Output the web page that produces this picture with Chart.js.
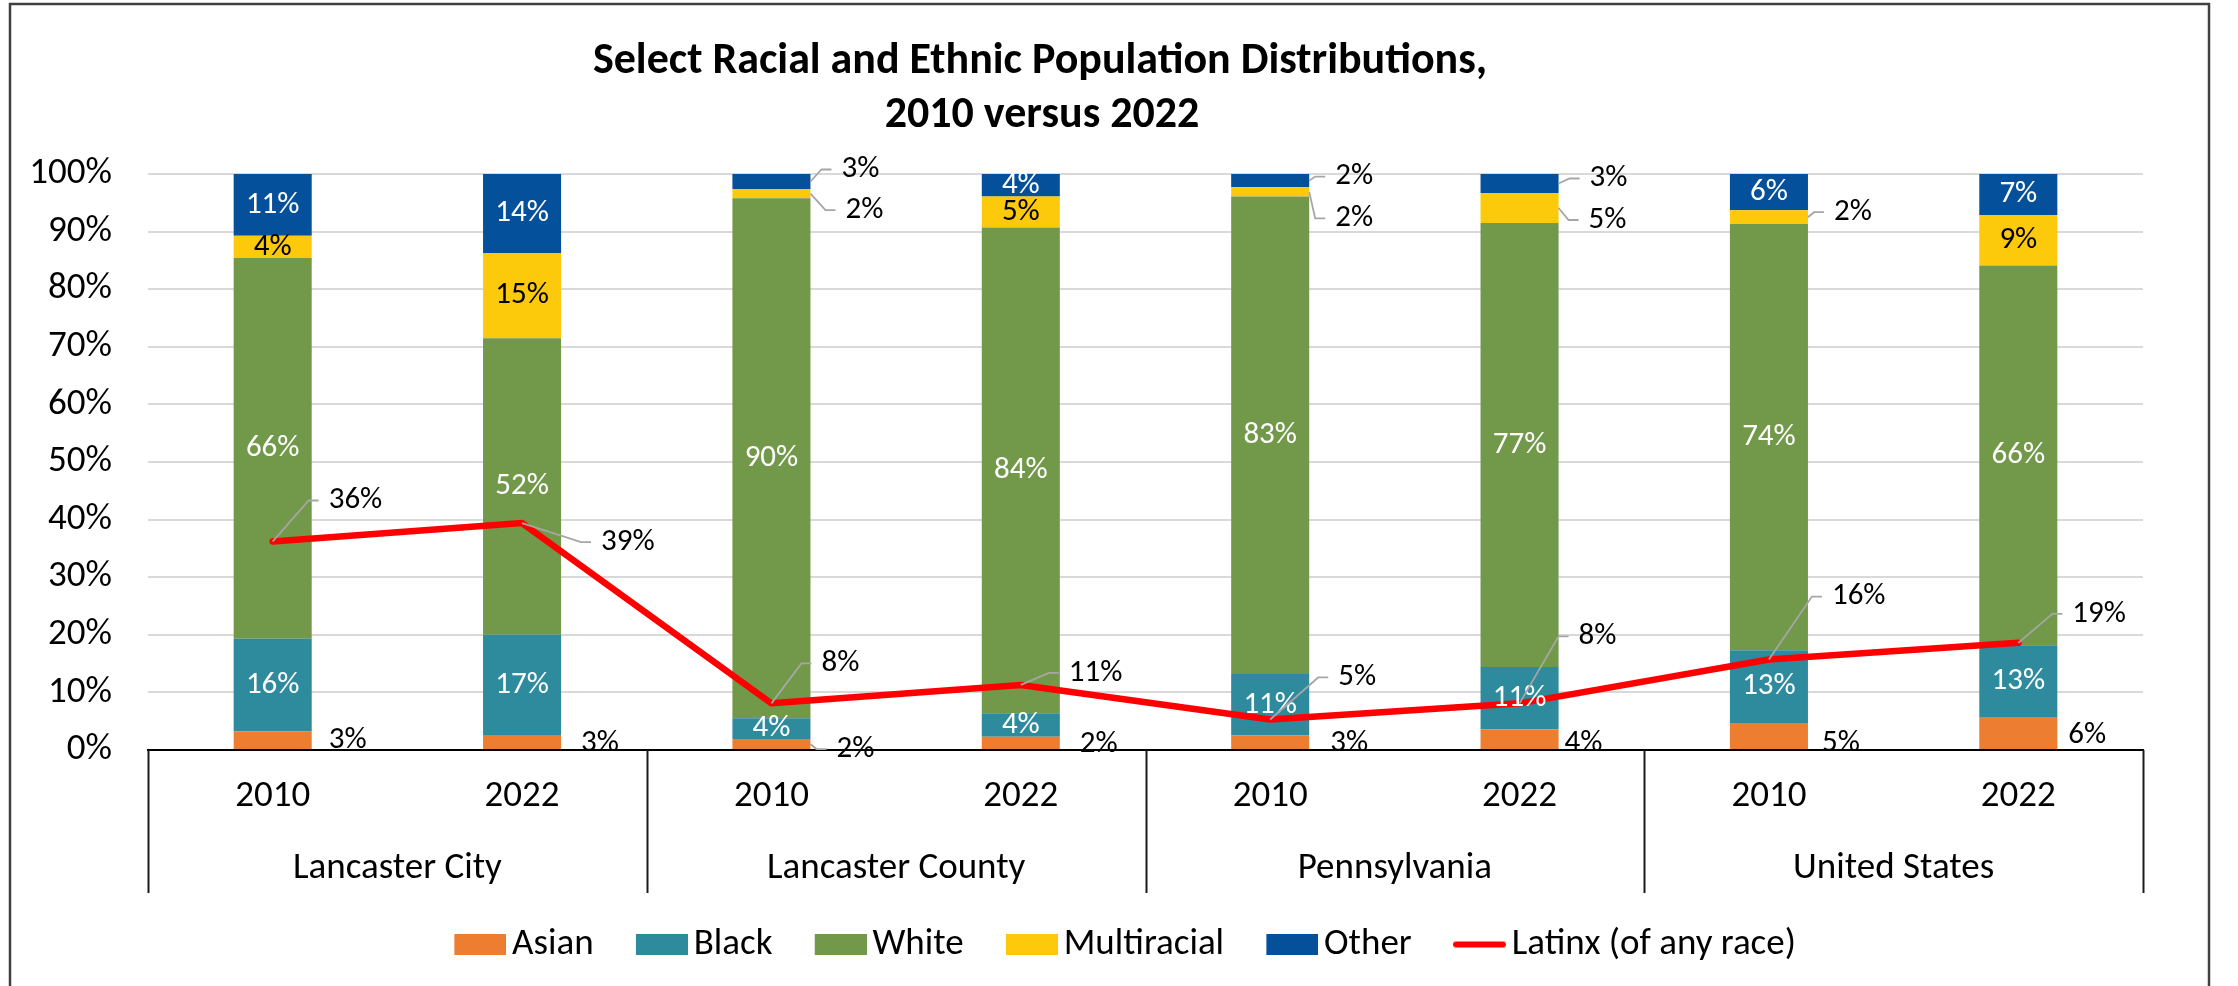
<!DOCTYPE html>
<html><head><meta charset="utf-8">
<script src="https://cdn.jsdelivr.net/npm/chart.js@4.4.1/dist/chart.umd.min.js"></script>
<style>html,body{margin:0;padding:0;background:#fff;} #wrap{position:relative;width:2238px;height:986px;}</style>
</head><body><div id="wrap"><canvas id="c"></canvas></div>
<script>
// ---------- data ----------
const titleLines = ['Select Racial and Ethnic Population Distributions,', '2010 versus 2022'];
const years = ['2010', '2022', '2010', '2022', '2010', '2022', '2010', '2022'];
const groups = ['Lancaster City', 'Lancaster County', 'Pennsylvania', 'United States'];
const asian       = [3.2, 2.6, 1.9, 2.3, 2.5, 3.6, 4.7, 5.6];
const black       = [16.1, 17.4, 3.6, 4.1, 10.7, 10.8, 12.6, 12.6];
const white       = [66.1, 51.5, 90.3, 84.3, 82.9, 77.1, 74.0, 65.9];
const multiracial = [3.9, 14.8, 1.6, 5.4, 1.6, 5.2, 2.4, 8.8];
const other       = [10.7, 13.7, 2.6, 3.9, 2.3, 3.3, 6.3, 7.1];
const latinx      = [36.2, 39.4, 8.1, 11.3, 5.3, 8.1, 15.7, 18.6];
const yMin = 0, yMax = 100, yStep = 10;

// ---------- label placement (style, not data) ----------
// 'c' = centred in segment; [dx, dy, leader] = text left offset from bar right edge / point, vertical offset
const labelPlacement = {
  asian:       [[17,0,0],[20,1.5,0],[26,5,1],[20,1.5,0],[21,1,0],[6,4,0],[14,7,0],[11,1.5,0]],
  black:       ['c','c','c','c','c','c','c','c'],
  white:       ['c','c','c','c','c','c','c','c'],
  multiracial: ['c','c',[35,16.5,1],'c',[26,26.5,1],[30,12,1],[26,-5,1],'c'],
  other:       ['c','c',[31,-12,1],'c',[26,-4,1],[31,-5,1],'c','c'],
  latinx:      [[56,-41,1],[79,19,1],[50,-40,1],[48,-12,1],[68,-42,1],[59,-67,1],[63,-63,1],[54,-29,1]]
};

const FONT = 'Carlito, Calibri, Lato, sans-serif';
Chart.defaults.font.family = FONT;
Chart.defaults.color = '#000';

// legend swatch: 52px key drawn at the right of a 77px transparent image (keeps text close to key)
function legendSwatch(color, isLine) {
  const c = document.createElement('canvas');
  const g = c.getContext('2d');
  c.width = 77;
  if (isLine) {
    c.height = 10;
    g.strokeStyle = color; g.lineWidth = 6; g.lineCap = 'round';
    g.beginPath(); g.moveTo(27, 5); g.lineTo(74, 5); g.stroke();
  } else {
    c.height = 21;
    g.fillStyle = color; g.fillRect(25, 0, 52, 21);
  }
  return c;
}

const framePlugin = {
  id: 'frame',
  beforeDraw(chart) {
    const ctx = chart.ctx;
    ctx.save();
    ctx.fillStyle = '#fff';
    ctx.fillRect(0, 0, chart.width, chart.height);
    ctx.restore();
  },
  afterDraw(chart) {
    const ctx = chart.ctx;
    ctx.save();
    ctx.strokeStyle = '#404040';
    ctx.lineWidth = 2.5;
    ctx.strokeRect(10, 4, 2199, 1000);
    // title
    ctx.fillStyle = '#000';
    ctx.font = 'bold 44px ' + FONT;
    ctx.textAlign = 'center';
    ctx.textBaseline = 'alphabetic';
    ctx.fillText(titleLines[0], 1040, 73);
    ctx.fillText(titleLines[1], 1042, 127);
    // group separators on the category axis
    const xs = chart.scales.x;
    const top = chart.chartArea.bottom;
    const bottom = top + 143;
    const n = xs.ticks.length;
    const pos = [xs.left];
    for (let k = 2; k < n; k += 2) {
      pos.push((xs.getPixelForValue(k - 1) + xs.getPixelForValue(k)) / 2);
    }
    pos.push(xs.right);
    ctx.strokeStyle = '#1a1a1a';
    ctx.lineWidth = 2;
    pos.forEach(px => {
      ctx.beginPath();
      ctx.moveTo(Math.round(px) + 0.5, top);
      ctx.lineTo(Math.round(px) + 0.5, bottom);
      ctx.stroke();
    });
    ctx.restore();
  }
};

function drawLeader(ctx, ax, ay, tx, ty) {
  ctx.beginPath();
  ctx.moveTo(ax, ay);
  ctx.lineTo(tx - 20, ty);
  ctx.lineTo(tx - 10, ty);
  ctx.stroke();
}

const labelPlugin = {
  id: 'valueLabels',
  afterDatasetsDraw(chart) {
    const ctx = chart.ctx;
    ctx.save();
    ctx.font = '31px ' + FONT;
    ctx.textBaseline = 'middle';
    ctx.strokeStyle = '#a6a6a6';
    ctx.lineWidth = 1.8;
    chart.data.datasets.forEach((ds, di) => {
      const meta = chart.getDatasetMeta(di);
      const place = labelPlacement[ds.key];
      meta.data.forEach((el, j) => {
        const txt = Math.round(ds.data[j]) + '%';
        const p = place[j];
        if (ds.type === 'line') {
          const {x, y} = el.getProps(['x', 'y'], true);
          const tx = x + p[0], ty = y + p[1];
          if (p[2]) drawLeader(ctx, x, y, tx, ty);
          ctx.fillStyle = '#000';
          ctx.textAlign = 'left';
          ctx.fillText(txt, tx, ty);
        } else {
          const {x, y, base, width} = el.getProps(['x', 'y', 'base', 'width'], true);
          const cy = (y + base) / 2;
          if (p === 'c') {
            ctx.fillStyle = ds.labelColor;
            ctx.textAlign = 'center';
            ctx.fillText(txt, x, cy);
          } else {
            const right = x + width / 2;
            const tx = right + p[0], ty = cy + p[1];
            if (p[2]) drawLeader(ctx, right, cy, tx, ty);
            ctx.fillStyle = '#000';
            ctx.textAlign = 'left';
            ctx.fillText(txt, tx, ty);
          }
        }
      });
    });
    ctx.restore();
  }
};

function barSet(label, key, data, color, labelColor) {
  return {
    type: 'bar', label, key, data, backgroundColor: color, borderWidth: 0,
    stack: 'race', order: 1, labelColor, pointStyle: 'rect',
    barPercentage: 0.313, categoryPercentage: 1.0
  };
}

new Chart(document.getElementById('c'), {
  type: 'bar',
  data: {
    labels: years,
    datasets: [
      barSet('Asian', 'asian', asian, '#ED7D31', '#000'),
      barSet('Black', 'black', black, '#2E8B9D', '#fff'),
      barSet('White', 'white', white, '#72994A', '#fff'),
      barSet('Multiracial', 'multiracial', multiracial, '#FDCA0B', '#000'),
      barSet('Other', 'other', other, '#05509A', '#fff'),
      {
        type: 'line', label: 'Latinx (of any race)', key: 'latinx', data: latinx,
        borderColor: '#FF0000', backgroundColor: '#FF0000', borderWidth: 6.5,
        pointRadius: 0, pointHoverRadius: 0, pointStyle: 'line', pointBorderWidth: 6,
        stack: 'latinx', order: 0, tension: 0, borderCapStyle: 'round', borderJoinStyle: 'round'
      }
    ]
  },
  options: {
    responsive: true,
    maintainAspectRatio: false,
    animation: false,
    events: [],
    layout: { padding: { top: 174, left: 0, right: 0, bottom: 13 } },
    plugins: {
      tooltip: { enabled: false },
      title: { display: false },
      legend: {
        position: 'bottom',
        labels: {
          usePointStyle: true,
          pointStyleWidth: 51.5,
          boxWidth: 51.5,
          boxHeight: 21,
          padding: 30,
          color: '#000',
          font: { size: 37, family: FONT },
          sort: (a, b) => a.datasetIndex - b.datasetIndex,
          generateLabels: (chart) => {
            const items = Chart.defaults.plugins.legend.labels.generateLabels(chart);
            items.forEach(it => {
              const ds = chart.data.datasets[it.datasetIndex];
              const isLine = ds.type === 'line';
              it.pointStyle = legendSwatch(isLine ? ds.borderColor : ds.backgroundColor, isLine);
              it.lineWidth = 0;
            });
            return items;
          }
        }
      }
    },
    scales: {
      x: {
        type: 'category',
        stacked: true,
        position: 'bottom',
        weight: 0,
        grid: { display: true, drawOnChartArea: false, drawTicks: false },
        border: { display: true, color: '#000', width: 2 },
        ticks: { font: { size: 37 }, color: '#000', padding: 25, maxRotation: 0, autoSkip: false },
        afterFit: (s) => { s.height = 72; }
      },
      x2: {
        type: 'category',
        labels: groups,
        position: 'bottom',
        offset: true,
        weight: 1,
        grid: { display: false, drawTicks: false },
        border: { display: false },
        ticks: { font: { size: 37 }, color: '#000', padding: 25, maxRotation: 0, autoSkip: false },
        afterFit: (s) => { s.height = 74; }
      },
      y: {
        type: 'linear',
        stacked: true,
        position: 'left',
        min: yMin,
        max: yMax,
        grid: {
          drawTicks: false,
          lineWidth: 2,
          color: (c) => (c.tick && c.tick.value === 0 ? 'rgba(0,0,0,0)' : '#d9d9d9')
        },
        border: { display: false },
        ticks: { stepSize: yStep, padding: 36, font: { size: 37 }, color: '#000', callback: (v) => v + '%' },
        afterFit: (s) => { s.width = 148; }
      },
      yRight: {
        type: 'linear',
        position: 'right',
        display: true,
        grid: { display: false, drawTicks: false },
        border: { display: false },
        ticks: { display: false },
        afterFit: (s) => { s.width = 95; }
      }
    }
  },
  plugins: [framePlugin, labelPlugin]
});
</script></body></html>
